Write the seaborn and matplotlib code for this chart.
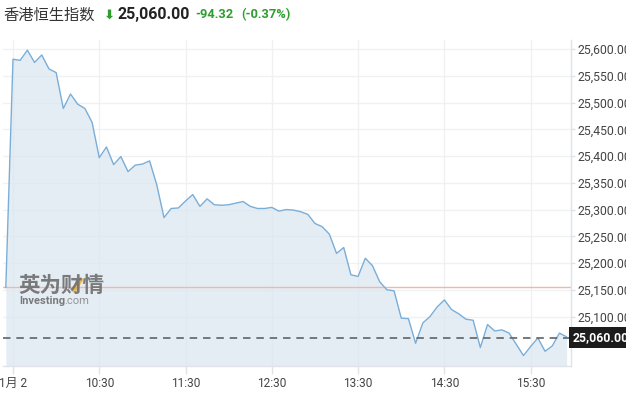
import numpy as np
import pandas as pd
import matplotlib
matplotlib.use("Agg")
import matplotlib.pyplot as plt
import matplotlib.dates as mdates
import matplotlib.transforms as mtransforms
from matplotlib.lines import Line2D
import seaborn as sns

# ---------------- data ----------------
title_name = "香港恒生指数"
last_price = 25060.00
change = -94.32
change_pct = -0.37
prev_close = 25154.32

start_time = "2019-01-02 09:25"
interval = "5min"
values = [
    25154,
    25581, 25579, 25598, 25575, 25589, 25563, 25556, 25489, 25516, 25497,
    25489, 25463, 25397, 25417, 25384, 25399, 25371, 25383, 25385, 25391,
    25346, 25285, 25302, 25303, 25316, 25328, 25306, 25320, 25309, 25308,
    25309, 25312, 25315, 25306, 25302, 25302, 25304, 25297, 25300, 25299,
    25296, 25291, 25274, 25268, 25254, 25218, 25229, 25178, 25175, 25209,
    25195, 25165, 25150, 25148, 25097, 25096, 25050, 25088, 25100, 25118,
    25131, 25113, 25105, 25095, 25093, 25042, 25085, 25073, 25075, 25069,
    25048, 25027, 25044, 25060, 25035, 25045, 25069, 25062,
]
xtick_times = ["09:30", "10:30", "11:30", "12:30", "13:30", "14:30", "15:30"]
xtick_labels = ["1月 2", "10:30", "11:30", "12:30", "13:30", "14:30", "15:30"]
ytick_values = [25100, 25150, 25200, 25250, 25300, 25350, 25400, 25450, 25500, 25550, 25600]
x_range = ("2019-01-02 09:23:03", "2019-01-02 15:57:42")
y_range = (25007.5, 25617)

times = pd.date_range(start_time, periods=len(values), freq=interval)
df = pd.DataFrame({"time": times, "value": values})

# ---------------- style ----------------
sns.set_theme(style="white")
plt.rcParams["font.family"] = ["Roboto", "Noto Sans CJK SC", "DejaVu Sans"]

W, H = 626, 393
fig = plt.figure(figsize=(W / 100, H / 100), dpi=100)
fig.patch.set_facecolor("white")
left, right, top, bottom = 3, 570.5, 40, 366
ax = fig.add_axes([left / W, 1 - bottom / H, (right - left) / W, (bottom - top) / H])
ax.set_facecolor("white")

line_color = "#7aaed8"
ax.fill_between(df["time"], df["value"], y_range[0] - 50, color="#dbe7f1", alpha=0.75,
                linewidth=0, zorder=1)
sns.lineplot(data=df, x="time", y="value", ax=ax, color=line_color, linewidth=1.0,
             zorder=3, legend=False)

ax.axhline(prev_close, color="#f4b5b0", linewidth=1.0, zorder=2)
ax.axhline(last_price, color="#5f6368", linewidth=1.2, linestyle=(0, (4.5, 3.5)), zorder=4)

ax.set_xlim(pd.Timestamp(x_range[0]), pd.Timestamp(x_range[1]))
ax.set_ylim(*y_range)

xt = [pd.Timestamp("2019-01-02 " + t) for t in xtick_times]
ax.set_xticks(xt)
ax.set_xticklabels(xtick_labels)
ax.set_yticks(ytick_values)
ax.set_yticklabels([f"{v:,.2f}" for v in ytick_values])
ax.yaxis.tick_right()
ax.set_xlabel("")
ax.set_ylabel("")

ax.grid(True, color="#f0f1f3", linewidth=1.0, zorder=0)
ax.set_axisbelow(True)
for s in ["top", "left"]:
    ax.spines[s].set_visible(False)
for s in ["right", "bottom"]:
    ax.spines[s].set_color("#dfe2e8")
    ax.spines[s].set_linewidth(1.0)

ax.tick_params(axis="y", which="both", right=True, length=3, width=1, color="#dfe2e8",
               pad=2, labelsize=8.8, labelcolor="#444444")
ax.tick_params(axis="x", which="both", bottom=True, length=6, width=1, color="#dfe2e8",
               pad=2, labelsize=8.6, labelcolor="#444444")
for lab in ax.get_xticklabels():
    lab.set_fontfamily(["Roboto", "Noto Sans CJK SC", "DejaVu Sans"])

# current price tag
trans = mtransforms.blended_transform_factory(ax.transAxes, ax.transData)
ax.text(1.004, last_price, f"{last_price:,.2f}", transform=trans, ha="left", va="center",
        color="white", fontsize=8.8, fontweight="bold",
        bbox=dict(boxstyle="square,pad=0.33", fc="#1c1c1c", ec="none"), zorder=10,
        clip_on=False)

# watermark
fig.text(18 / W, 1 - 285 / H, "英为财情", fontsize=15.5, fontweight="bold", color="#6e6e6e",
         family=["Noto Sans CJK SC"], ha="left", va="center", alpha=0.9)
fig.add_artist(Line2D([73 / W, 82 / W], [1 - 292 / H, 1 - 278 / H], color="#f3b23c",
                      linewidth=3.0, alpha=0.9, solid_capstyle="butt"))
fig.text(19 / W, 1 - 301 / H, "Investing", fontsize=8.0, fontweight="bold", color="#6e6e6e",
         ha="left", va="center", alpha=0.9)
fig.text(64 / W, 1 - 301 / H, ".com", fontsize=8.0, color="#8a8a8a",
         ha="left", va="center", alpha=0.9)

# header
green = "#2e9e2e"
fig.text(3 / W, 1 - 15 / H, title_name, fontsize=11, color="#333333",
         family=["Noto Sans CJK SC"], ha="left", va="center")
fig.text(103 / W, 1 - 15.5 / H, "⬇", fontsize=9.5, color=green,
         family=["DejaVu Sans"], ha="left", va="center", fontweight="bold")
fig.text(117 / W, 1 - 15 / H, f"{last_price:,.2f}", fontsize=11.5, fontweight="bold",
         color="#222222", ha="left", va="center")
fig.text(195 / W, 1 - 15 / H, f"{change:.2f}", fontsize=9.3, fontweight="bold",
         color=green, ha="left", va="center")
fig.text(241 / W, 1 - 15 / H, f"({change_pct:.2f}%)", fontsize=9.3, fontweight="bold",
         color=green, ha="left", va="center")

fig.savefig("out.png", dpi=100, facecolor="white")
